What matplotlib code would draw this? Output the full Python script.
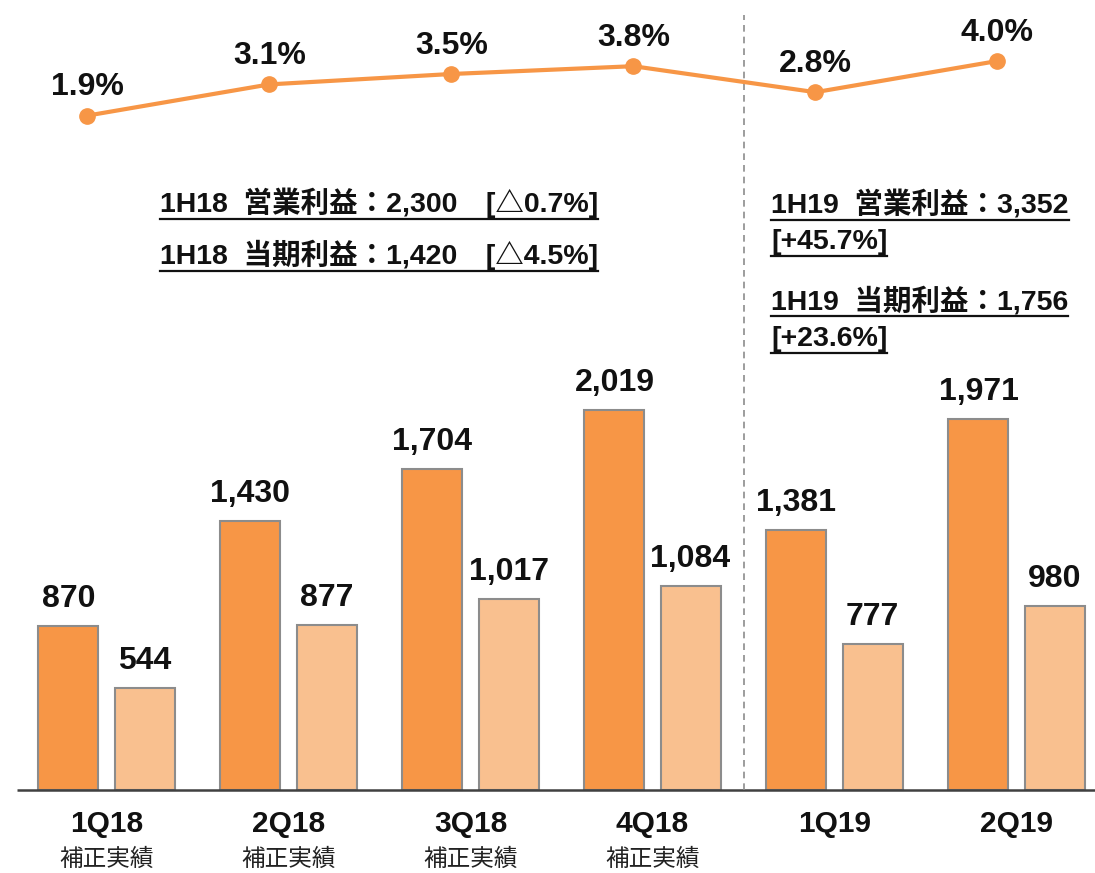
import numpy as np
import matplotlib
matplotlib.use("Agg")
import matplotlib.pyplot as plt
from matplotlib.lines import Line2D

plt.rcParams['font.family'] = ['Liberation Sans', 'Noto Sans CJK JP', 'DejaVu Sans']

# data
quarters = ["1Q18", "2Q18", "3Q18", "4Q18", "1Q19", "2Q19"]
sublabels = ["補正実績", "補正実績", "補正実績", "補正実績", "", ""]
op_profit = [870, 1430, 1704, 2019, 1381, 1971]
net_profit = [544, 877, 1017, 1084, 777, 980]
margin = [1.9, 3.1, 3.5, 3.8, 2.8, 4.0]
notes_18 = ["1H18  営業利益：2,300　[△0.7%]", "1H18  当期利益：1,420　[△4.5%]"]
notes_19 = ["1H19  営業利益：3,352", "[+45.7%]", "1H19  当期利益：1,756", "[+23.6%]"]

DARK = "#F79646"
LIGHT = "#F9C08F"
EDGE = "#8C8C8C"

W, H = 1095, 873
fig = plt.figure(figsize=(W / 100, H / 100), dpi=100)
ax = fig.add_axes([0, 0, 1, 1])
ax.set_axis_off()

x = np.arange(len(quarters))
bw = 0.33
gap = 0.088
ax.bar(x - (bw + gap) / 2, op_profit, bw, color=DARK, edgecolor=EDGE, linewidth=1.5)
ax.bar(x + (bw + gap) / 2, net_profit, bw, color=LIGHT, edgecolor=EDGE, linewidth=1.5)

# px scale: group spacing 182 px, baseline 83 px from bottom
px_per_val = 380 / 2019
ax.set_xlim(-106.5 / 182, (W - 106.5) / 182)
ax.set_ylim(-83 / px_per_val, (H - 83) / px_per_val)

for i in range(len(quarters)):
    ax.annotate(f"{op_profit[i]:,}", (x[i] - (bw + gap) / 2, op_profit[i]),
                xytext=(0, 13.7), textcoords="offset points", ha="center", va="baseline",
                fontsize=23, fontweight="bold", color="#111111")
    ax.annotate(f"{net_profit[i]:,}", (x[i] + (bw + gap) / 2, net_profit[i]),
                xytext=(0, 13.7), textcoords="offset points", ha="center", va="baseline",
                fontsize=23, fontweight="bold", color="#111111")
    ax.annotate(quarters[i], (x[i], 0), xytext=(0, -30), textcoords="offset points",
                ha="center", va="baseline", fontsize=21.5, fontweight="bold", color="#111111")
    if sublabels[i]:
        ax.annotate(sublabels[i], (x[i], 0), xytext=(0, -55), textcoords="offset points",
                    ha="center", va="baseline", fontsize=17, color="#222222")

ax.hlines(0, -0.49, x[-1] + 0.6, color="#404040", linewidth=1.8)
ax.vlines(3.5, 0, 4120, color="#8C8C8C", linewidth=1.2, linestyles=(0, (4, 3)))

# margin line
ax2 = ax.twinx()
ax2.set_axis_off()
ax2.set_ylim(-708 / 26, (H - 708) / 26)
ax2.plot(x - 0.105, margin, color=DARK, linewidth=3, marker="o", markersize=11)
for i in range(len(quarters)):
    ax2.annotate(f"{margin[i]:.1f}%", (x[i] - 0.105, margin[i]), xytext=(0, 14.5),
                 textcoords="offset points", ha="center", va="baseline",
                 fontsize=23, fontweight="bold", color="#111111")


def note(txt, left, base):
    t = fig.text(left / W, 1 - base / H, txt, ha="left", va="baseline",
                 fontsize=20.5, fontweight="bold", color="#111111")
    fig.canvas.draw()
    bb = t.get_window_extent(renderer=fig.canvas.get_renderer())
    yl = 1 - (base + 7) / H
    fig.add_artist(Line2D([bb.x0 / W, bb.x1 / W], [yl, yl], color="#111111",
                          linewidth=1.6, transform=fig.transFigure))


for txt, base in zip(notes_18, [212, 264]):
    note(txt, 160, base)
for txt, base in zip(notes_19, [213, 249, 309, 346]):
    note(txt, 771, base)

fig.savefig("out.png", dpi=100)
